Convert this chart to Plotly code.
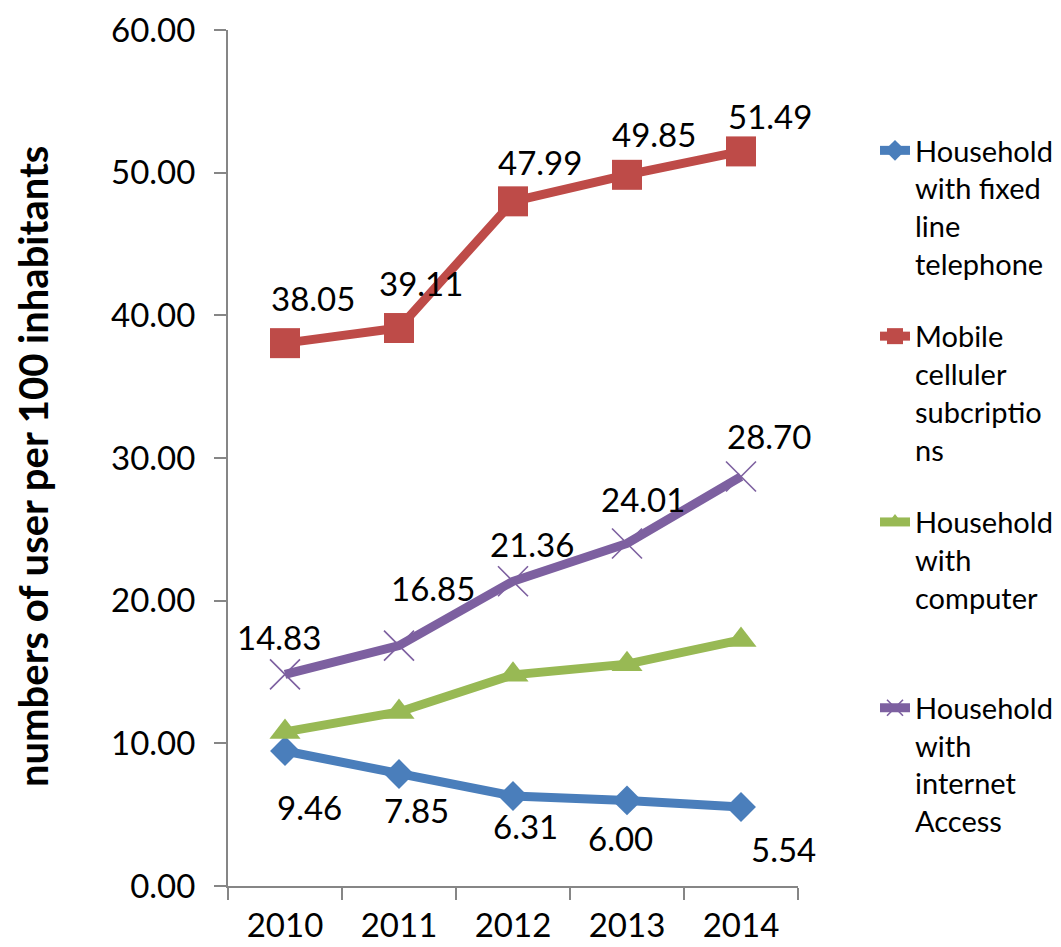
import plotly.graph_objects as go

# Survey years and indicator values (users per 100 inhabitants)
years = ["2010", "2011", "2012", "2013", "2014"]
fixed_line = [9.46, 7.85, 6.31, 6.00, 5.54]
mobile = [38.05, 39.11, 47.99, 49.85, 51.49]
computer = [10.8, 12.2, 14.8, 15.55, 17.25]
internet = [14.83, 16.85, 21.36, 24.01, 28.70]

names = [
    "Household<br>with fixed<br>line<br>telephone",
    "Mobile<br>celluler<br>subcriptio<br>ns",
    "Household<br>with<br>computer<br>&nbsp;",
    "Household<br>with<br>internet<br>Access",
]

FONT = "Lato"
AXIS_GREY = "#868686"

series = [
    dict(y=fixed_line, name=names[0], color="#4A7EBB", symbol="diamond", size=23, labels=True),
    dict(y=mobile, name=names[1], color="#BE4B48", symbol="square", size=30, labels=True),
    dict(y=computer, name=names[2], color="#98B954", symbol="triangle-up", size=27, labels=False),
    dict(y=internet, name=names[3], color="#7D60A0", symbol="x-thin", size=30, labels=True),
]

# pixel offsets of the value labels from their points (dx, dy up)
label_offsets = [
    [(24, -56), (17, -36), (12, -30), (-7, -38), (42, -42)],
    [(28, 45), (22, 45), (27, 39), (27, 41), (29, 35)],
    None,
    [(-6, 37), (34, 58), (19, 37), (16, 44), (28, 41)],
]

fig = go.Figure()
annotations = []
for i, s in enumerate(series):
    marker = dict(symbol=s["symbol"], size=s["size"], color=s["color"])
    if s["symbol"] == "x-thin":
        marker["line"] = dict(color=s["color"], width=1.6)
    else:
        marker["line"] = dict(width=0)
    fig.add_trace(go.Scatter(
        x=years, y=s["y"], name=s["name"], mode="lines+markers",
        line=dict(color=s["color"], width=9),
        marker=marker, legendgroup=f"g{i}",
    ))
    if s["labels"]:
        for j, yv in enumerate(s["y"]):
            dx, dy = label_offsets[i][j]
            annotations.append(dict(
                x=j, y=yv, xref="x", yref="y", text=f"{yv:.2f}",
                showarrow=False, xshift=dx, yshift=dy,
                xanchor="center", yanchor="middle",
                font=dict(family=FONT, size=33, color="black"),
            ))

annotations.append(dict(
    text="<b>numbers of user per 100 inhabitants</b>",
    xref="paper", yref="paper", x=-0.343, y=0.49, textangle=-90,
    xanchor="center", yanchor="middle",
    showarrow=False, font=dict(family=FONT, size=40, color="black"),
))

fig.update_layout(
    width=1061, height=947,
    margin=dict(l=228, r=263, t=30, b=61, autoexpand=False),
    paper_bgcolor="white", plot_bgcolor="white",
    font=dict(family=FONT, color="black"),
    showlegend=True,
    legend=dict(
        xref="container", yref="container",
        x=875 / 1061, y=1 - 125 / 947, xanchor="left", yanchor="top",
        font=dict(family=FONT, size=29, color="black"),
        valign="top", tracegroupgap=32, bgcolor="rgba(0,0,0,0)",
        itemwidth=30, maxheight=900,
    ),
    annotations=annotations,
    xaxis=dict(
        type="category", range=[-0.5, 4.5], tickson="boundaries",
        ticks="outside", ticklen=12, tickwidth=2, tickcolor=AXIS_GREY,
        showline=True, linecolor=AXIS_GREY, linewidth=2,
        showgrid=False, zeroline=False, automargin=False,
        tickfont=dict(family=FONT, size=33, color="black"),
        ticklabelstandoff=9,
    ),
    yaxis=dict(
        range=[0, 60], dtick=10, tickformat=".2f",
        ticks="outside", ticklen=12, tickwidth=2, tickcolor=AXIS_GREY,
        showline=True, linecolor=AXIS_GREY, linewidth=2,
        showgrid=False, zeroline=False, automargin=False,
        tickfont=dict(family=FONT, size=33, color="black"),
        ticklabelstandoff=12,
    ),
)

fig.write_html("out.html")
